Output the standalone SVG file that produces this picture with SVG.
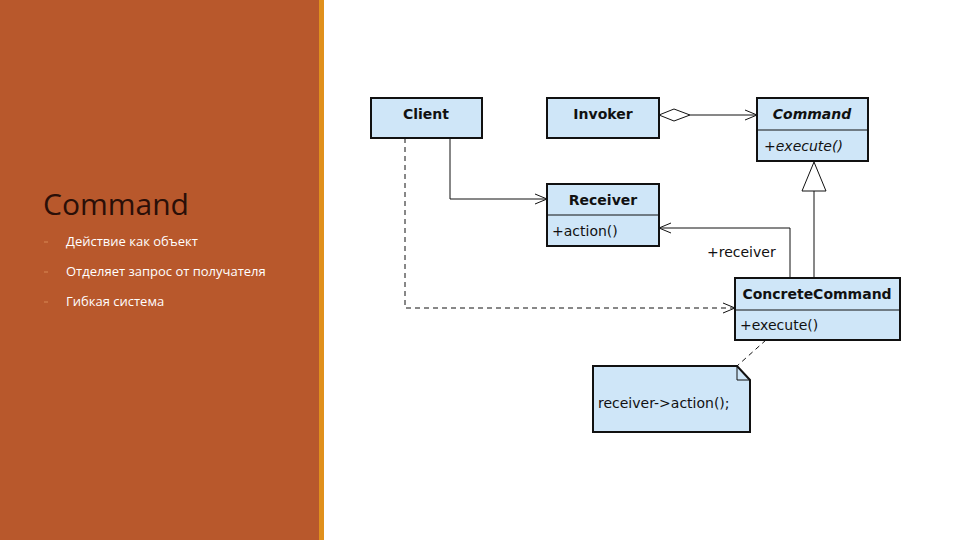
<svg xmlns="http://www.w3.org/2000/svg" width="960" height="540" viewBox="0 0 960 540">
<style>
.box{fill:#cfe6f8;stroke:#111;stroke-width:2}
.div{stroke:#111;stroke-width:1}
.t{font-family:Verdana,"DejaVu Sans",sans-serif;font-size:14px;fill:#111}
.b{font-weight:bold}
.ln{fill:none;stroke:#111;stroke-width:1}
.dash{fill:none;stroke:#111;stroke-width:1;stroke-dasharray:5,4}
.side{font-family:"Segoe UI","Open Sans",sans-serif;fill:#fff;font-size:13px}
</style>
<defs>
<marker id="open" markerWidth="14" markerHeight="12" refX="13" refY="6" orient="auto" markerUnits="userSpaceOnUse">
<path d="M1,1 L13,6 L1,11" fill="none" stroke="#111" stroke-width="1"/>
</marker>
</defs>
<rect width="960" height="540" fill="#fff"/>
<rect width="320" height="540" fill="#b8582c"/>
<rect x="319" width="5" height="540" fill="#e0901c"/>
<text x="43" y="215" font-family="'Segoe UI','Open Sans',sans-serif" font-size="30" fill="#2a0f08">Command</text>
<g fill="#c87040"><rect x="44" y="241" width="4" height="2"/><rect x="44" y="271" width="4" height="2"/><rect x="44" y="301" width="4" height="2"/></g>
<text class="side" x="66" y="246">Действие как объект</text>
<text class="side" x="66" y="276">Отделяет запрос от получателя</text>
<text class="side" x="66" y="306">Гибкая система</text>
<g id="connectors">
<path class="ln" d="M690,115 L757,115" marker-end="url(#open)"/>
<path d="M659,115 L674,109 L690,115 L674,121 Z" fill="#fff" stroke="#111"/>
<path class="ln" d="M450,138 L450,199 L547,199" marker-end="url(#open)"/>
<path class="dash" d="M405,138 L405,308 L735,308" marker-end="url(#open)"/>
<path class="ln" d="M790,278 L790,228 L659,228" marker-end="url(#open)"/>
<path class="ln" d="M814,278 L814,191"/>
<path d="M814,162 L826,191 L802,191 Z" fill="#fff" stroke="#111"/>
<path class="dash" d="M766,340 L737,366"/>
<text class="t" x="707" y="257" font-size="13">+receiver</text>
</g>
<g id="client"><rect class="box" x="371" y="98" width="111" height="40"/><text class="t b" x="426" y="119" text-anchor="middle">Client</text></g>
<g id="invoker"><rect class="box" x="547" y="98" width="112" height="40"/><text class="t b" x="603" y="119" text-anchor="middle">Invoker</text></g>
<g id="command"><rect class="box" x="757" y="98" width="111" height="63"/><line class="div" x1="757" y1="130" x2="868" y2="130"/><text class="t b" x="812" y="119" text-anchor="middle" font-style="italic">Command</text><text class="t" x="764" y="151" font-style="italic">+execute()</text></g>
<g id="receiver"><rect class="box" x="547" y="184" width="112" height="62"/><line class="div" x1="547" y1="215" x2="659" y2="215"/><text class="t b" x="603" y="205" text-anchor="middle">Receiver</text><text class="t" x="552" y="236">+action()</text></g>
<g id="concrete"><rect class="box" x="735" y="278" width="165" height="62"/><line class="div" x1="735" y1="310" x2="900" y2="310"/><text class="t b" x="817" y="299" text-anchor="middle">ConcreteCommand</text><text class="t" x="740" y="330">+execute()</text></g>
<g id="note"><path class="box" d="M593,366 L737,366 L750,380 L750,432 L593,432 Z"/><path class="ln" d="M737,366 L737,380 L750,380"/><text class="t" x="598" y="408" font-size="13">receiver->action();</text></g>
</svg>
